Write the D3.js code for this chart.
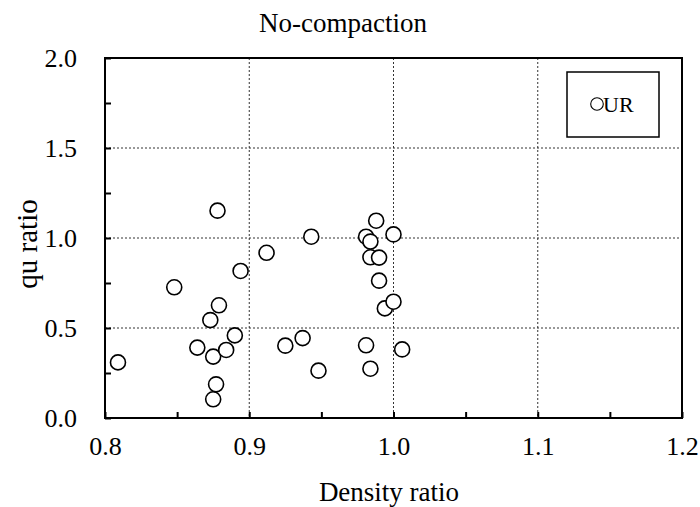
<!DOCTYPE html>
<html>
<head>
<meta charset="utf-8">
<script src="https://cdn.jsdelivr.net/npm/d3@7"></script>
<style>
  body { margin: 0; background: #fff; }
  svg text { font-family: "Liberation Serif", "Times New Roman", Times, serif !important; }
</style>
</head>
<body>
<div id="vis"></div>
<script>
// Data (UR series)
const densityRatio = [0.809, 0.848, 0.864, 0.873, 0.875, 0.875, 0.877, 0.878, 0.879, 0.884,
                      0.890, 0.894, 0.912, 0.925, 0.937, 0.943, 0.948, 0.981, 0.981, 0.984,
                      0.984, 0.984, 0.988, 0.990, 0.990, 0.994, 1.000, 1.000, 1.006];
const quRatio = [0.309, 0.726, 0.391, 0.544, 0.341, 0.104, 0.187, 1.152, 0.626, 0.378,
                 0.459, 0.817, 0.918, 0.402, 0.444, 1.007, 0.263, 1.007, 0.404, 0.980,
                 0.893, 0.274, 1.096, 0.891, 0.763, 0.609, 1.020, 0.646, 0.381];
const xTicks = [0.8, 0.85, 0.9, 0.95, 1.0, 1.05, 1.1, 1.15, 1.2];
const yTicks = [0.0, 0.25, 0.5, 0.75, 1.0, 1.25, 1.5, 1.75, 2.0];
const xGrid = [0.9, 1.0, 1.1];
const yGrid = [0.5, 1.0, 1.5];

const FONT = '"Liberation Serif", "Times New Roman", Times, serif';
const W = 700, H = 507;
const margin = { top: 58, right: 18, bottom: 89, left: 105 };
const width = W - margin.left - margin.right;
const height = H - margin.top - margin.bottom;

const svg = d3.select('#vis').append('svg')
    .attr('width', W)
    .attr('height', H);

const g = svg.append('g')
    .attr('transform', `translate(${margin.left},${margin.top})`);

const xScale = d3.scaleLinear().domain([0.8, 1.2]).range([0, width]);
const yScale = d3.scaleLinear().domain([0, 2]).range([height, 0]);

// dotted grid
g.selectAll('.xgrid').data(xGrid).enter().append('line')
    .attr('x1', d => xScale(d)).attr('x2', d => xScale(d))
    .attr('y1', 0).attr('y2', height)
    .attr('stroke', '#333').attr('stroke-width', 1).attr('stroke-dasharray', '2,2');
g.selectAll('.ygrid').data(yGrid).enter().append('line')
    .attr('y1', d => yScale(d)).attr('y2', d => yScale(d))
    .attr('x1', 0).attr('x2', width)
    .attr('stroke', '#333').attr('stroke-width', 1).attr('stroke-dasharray', '2,2');

// axes, ticks pointing inward
const fmt = d => (Math.round(d * 100) % 10 === 0) ? d.toFixed(1) : '';
const fmtY = d => (Math.round(d * 100) % 50 === 0) ? d.toFixed(1) : '';

const xAxis = g.append('g')
    .attr('transform', `translate(0,${height})`)
    .call(d3.axisBottom(xScale).tickValues(xTicks).tickFormat(fmt)
        .tickSizeInner(-6).tickSizeOuter(0).tickPadding(18.5));
const yAxis = g.append('g')
    .call(d3.axisLeft(yScale).tickValues(yTicks).tickFormat(fmtY)
        .tickSizeInner(-6).tickSizeOuter(0).tickPadding(28));

[xAxis, yAxis].forEach(a => {
    a.attr('font-family', null).attr('font-size', null);
    a.select('.domain').remove();
    a.selectAll('.tick line').attr('stroke', '#000').attr('stroke-width', 2);
    a.selectAll('.tick text')
        .attr('fill', '#000')
        .style('font-family', FONT)
        .style('font-size', '26px');
});

// frame
g.append('rect')
    .attr('width', width).attr('height', height)
    .attr('fill', 'none').attr('stroke', '#000').attr('stroke-width', 2);

// points
g.selectAll('.points')
    .data(densityRatio.map((d, i) => [d, quRatio[i]]))
    .enter().append('circle')
    .attr('class', 'points')
    .attr('cx', d => xScale(d[0]))
    .attr('cy', d => yScale(d[1]))
    .attr('r', 7.5)
    .attr('fill', '#fff')
    .attr('stroke', '#000')
    .attr('stroke-width', 1.6);

// legend
svg.append('rect')
    .attr('x', 567).attr('y', 72).attr('width', 92).attr('height', 65)
    .attr('fill', '#fff').attr('stroke', '#000').attr('stroke-width', 1.5);
svg.append('circle')
    .attr('cx', 597).attr('cy', 104).attr('r', 6.3)
    .attr('fill', '#fff').attr('stroke', '#000').attr('stroke-width', 1.1);
svg.append('text')
    .attr('x', 603).attr('y', 112)
    .style('font-size', '22px')
    .text('UR');

// titles
svg.append('text')
    .attr('x', 343).attr('y', 32)
    .attr('text-anchor', 'middle')
    .style('font-size', '27px')
    .text('No-compaction');

svg.append('text')
    .attr('x', 389).attr('y', 501)
    .attr('text-anchor', 'middle')
    .style('font-size', '27px')
    .text('Density ratio');

svg.append('text')
    .attr('transform', 'translate(37,244) rotate(-90)')
    .attr('text-anchor', 'middle')
    .style('font-size', '29px')
    .text('qu ratio');
</script>
</body>
</html>
